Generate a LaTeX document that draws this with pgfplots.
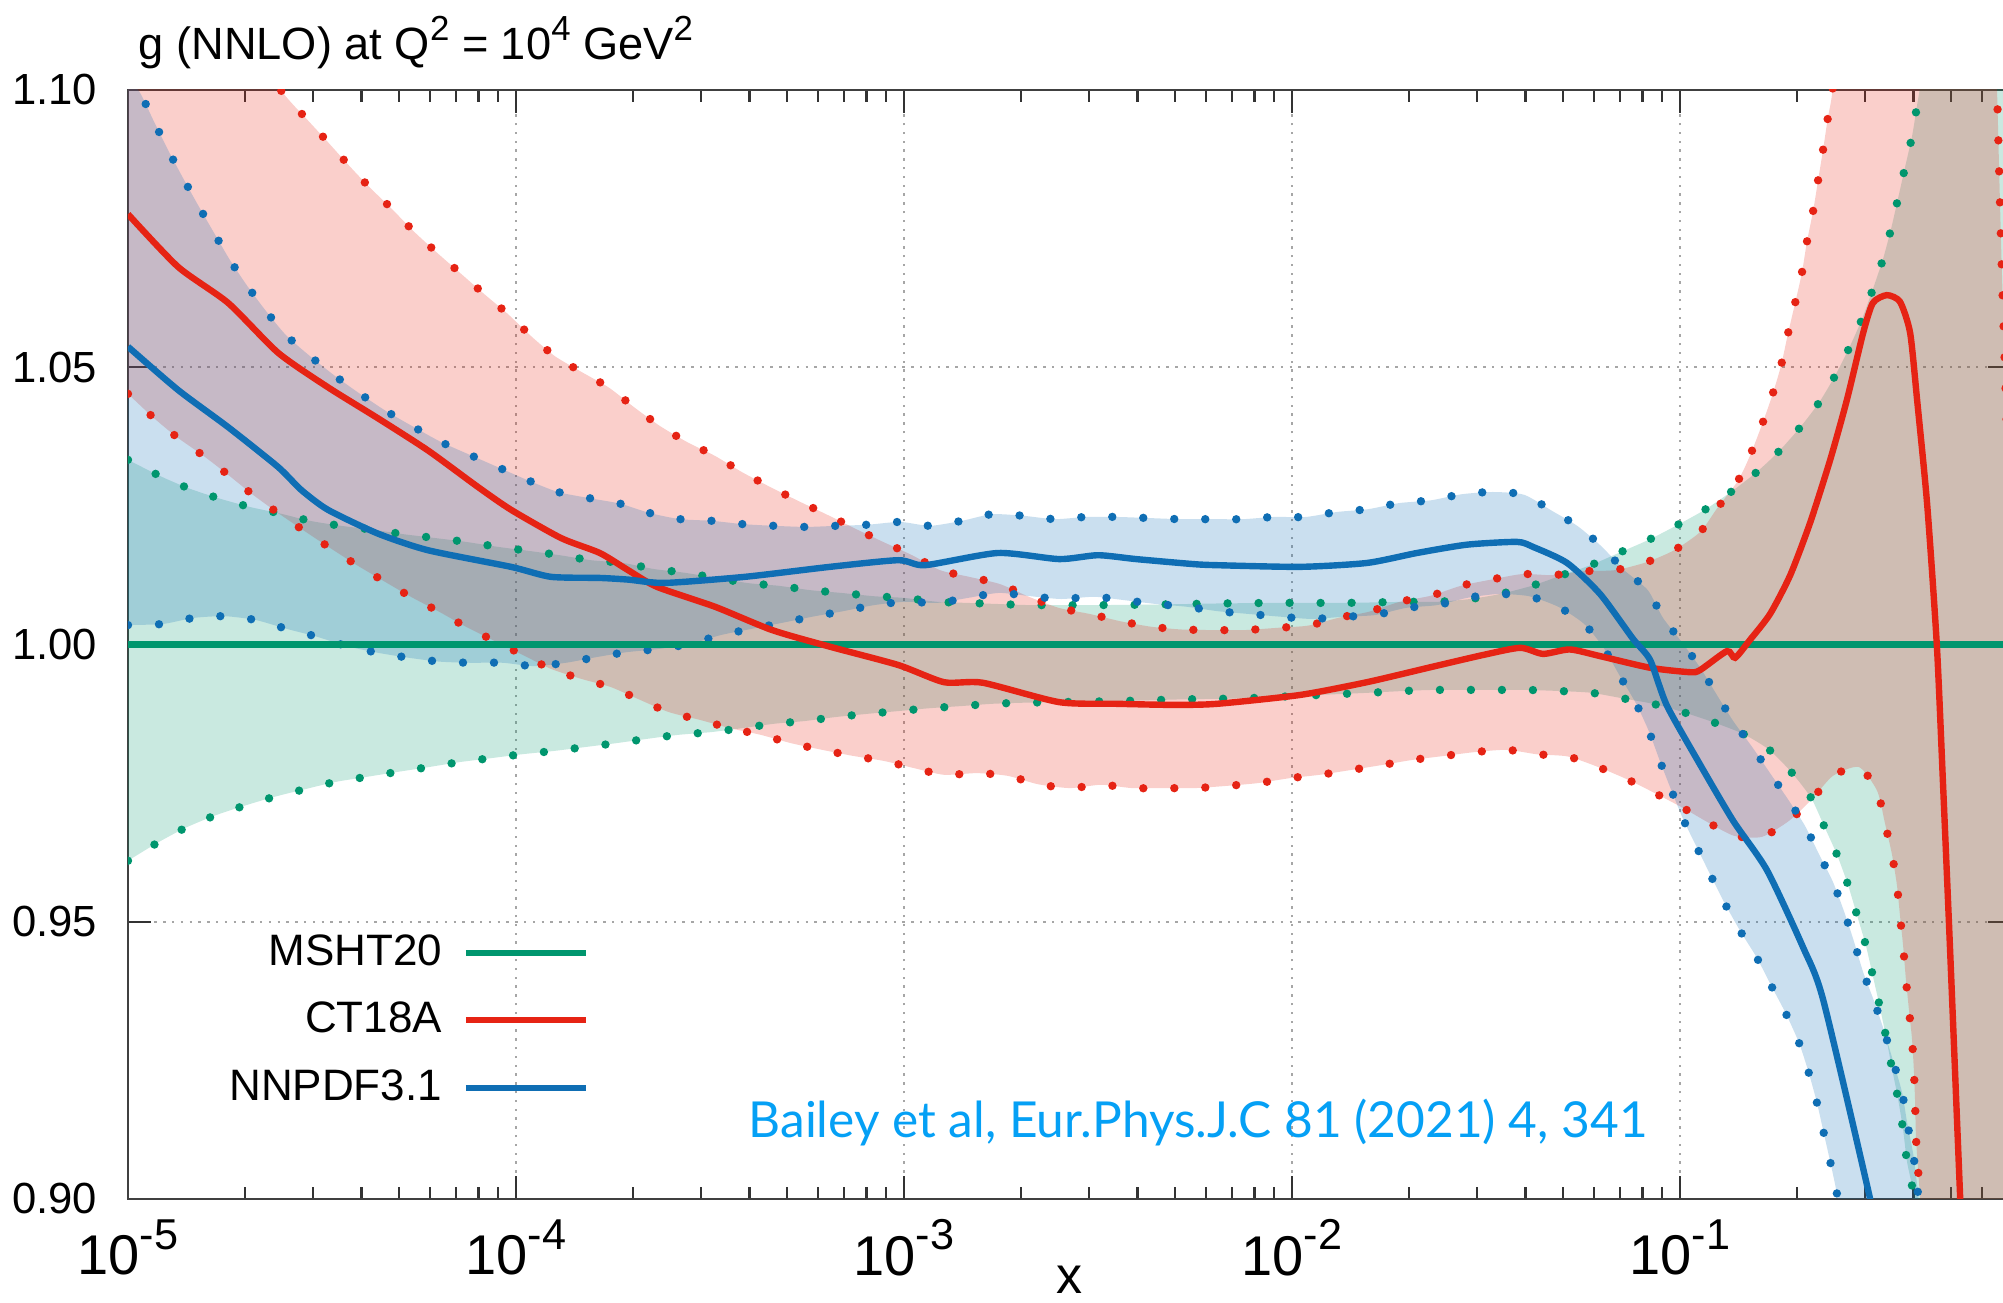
\documentclass[border=0pt]{standalone}
\usepackage{pgfplots}
\pgfplotsset{compat=1.18}
\usepackage{pgfplotstable}
\usepgfplotslibrary{fillbetween}
\usepackage{fontspec}
\setmainfont{Liberation Sans}
\newfontfamily\citefont{Lato}
\definecolor{mgreen}{RGB}{0,150,110}
\definecolor{mred}{RGB}{230,35,20}
\definecolor{mblue}{RGB}{15,110,180}
\definecolor{citeblue}{RGB}{5,160,245}
\tikzset{bandedge/.style={line width=2.1pt, line cap=round, dash pattern=on 0pt off 7.75pt}}

% x column = log10(x)
\pgfplotstableread{
lx y
-5.000 1.0
-0.100 1.0
}\mshtC
\pgfplotstableread{
lx y
-5.000 1.0333
-4.918 1.0304
-4.845 1.0282
-4.768 1.0264
-4.686 1.0248
-4.613 1.0237
-4.531 1.0223
-4.451 1.0214
-4.369 1.0207
-4.291 1.0199
-4.209 1.0192
-4.129 1.0185
-4.046 1.0176
-3.969 1.0169
-3.887 1.0161
-3.807 1.0152
-3.724 1.0147
-3.644 1.0136
-3.562 1.0129
-3.405 1.0111
-3.325 1.0106
-3.242 1.0098
-3.162 1.0093
-3.077 1.0087
-3.000 1.0084
-2.915 1.0077
-2.838 1.0075
-2.758 1.0073
-2.673 1.0071
-2.510 1.0071
-2.353 1.0072
-2.186 1.0074
-2.026 1.0075
-1.863 1.0075
-1.701 1.0077
-1.624 1.0077
-1.541 1.0082
-1.464 1.0091
-1.381 1.0106
-1.304 1.0125
-1.227 1.0144
-1.155 1.0166
-1.080 1.0189
-1.008 1.0215
-0.936 1.0243
-0.869 1.0275
-0.804 1.0310
-0.747 1.0347
-0.690 1.0392
-0.642 1.0436
-0.601 1.0484
-0.564 1.0535
-0.531 1.0587
-0.503 1.0641
-0.477 1.0695
-0.456 1.0750
-0.438 1.0805
-0.420 1.0861
-0.402 1.0917
-0.389 1.0973
-0.375 1.1040
-0.340 1.1300
-0.250 1.2000
-0.100 1.2500
}\mshtU
\pgfplotstableread{
lx y
-5.000 0.9610
-4.925 0.9642
-4.853 0.9669
-4.778 0.9691
-4.701 0.9709
-4.624 0.9725
-4.544 0.9739
-4.466 0.9752
-4.387 0.9761
-4.307 0.9770
-4.224 0.9779
-4.144 0.9788
-4.064 0.9795
-3.985 0.9802
-3.902 0.9808
-3.822 0.9815
-3.742 0.9822
-3.660 0.9830
-3.582 0.9837
-3.497 0.9842
-3.418 0.9849
-3.335 0.9857
-3.255 0.9862
-3.178 0.9869
-3.093 0.9875
-3.013 0.9880
-2.935 0.9885
-2.851 0.9889
-2.773 0.9893
-2.691 0.9895
-2.611 0.9896
-2.446 0.9898
-2.284 0.9901
-2.121 0.9903
-1.961 0.9908
-1.800 0.9913
-1.716 0.9916
-1.637 0.9918
-1.472 0.9918
-1.392 0.9918
-1.309 0.9916
-1.230 0.9913
-1.149 0.9903
-1.070 0.9893
-0.992 0.9878
-0.915 0.9860
-0.838 0.9839
-0.770 0.9810
-0.711 0.9768
-0.662 0.9723
-0.629 0.9673
-0.595 0.9620
-0.567 0.9566
-0.544 0.9512
-0.521 0.9457
-0.503 0.9402
-0.485 0.9346
-0.469 0.9292
-0.454 0.9236
-0.438 0.9180
-0.425 0.9124
-0.415 0.9067
-0.399 0.9011
-0.380 0.8900
-0.300 0.8500
-0.100 0.8000
}\mshtL
\pgfplotstableread{
lx y
-5.000 1.0776
-4.871 1.0681
-4.742 1.0616
-4.613 1.0526
-4.485 1.0464
-4.356 1.0408
-4.227 1.0350
-4.098 1.0284
-4.013 1.0243
-3.884 1.0192
-3.784 1.0165
-3.711 1.0134
-3.637 1.0104
-3.487 1.0068
-3.340 1.0026
-3.191 0.9996
-3.015 0.9963
-2.897 0.9932
-2.797 0.9931
-2.600 0.9896
-2.451 0.9893
-2.304 0.9891
-2.193 0.9893
-1.979 0.9909
-1.807 0.9932
-1.637 0.9960
-1.508 0.9981
-1.412 0.9994
-1.353 0.9983
-1.284 0.9991
-1.206 0.9979
-1.077 0.9958
-0.974 0.9950
-0.948 0.9954
-0.879 0.9988
-0.858 0.9976
-0.820 1.0008
-0.768 1.0055
-0.716 1.0125
-0.665 1.0219
-0.613 1.0333
-0.570 1.0441
-0.528 1.0562
-0.503 1.0616
-0.467 1.0630
-0.433 1.0618
-0.407 1.0562
-0.389 1.0441
-0.363 1.0252
-0.338 0.9997
-0.322 0.9745
-0.304 0.9449
-0.278 0.9002
-0.260 0.8700
}\ctC
\pgfplotstableread{
lx y
-5.000 1.1350
-4.800 1.1170
-4.601 1.0995
-4.544 1.0951
-4.490 1.0910
-4.436 1.0868
-4.381 1.0827
-4.322 1.0787
-4.265 1.0746
-4.206 1.0708
-4.144 1.0670
-4.082 1.0632
-4.021 1.0596
-3.961 1.0556
-3.900 1.0520
-3.830 1.0491
-3.760 1.0463
-3.696 1.0428
-3.629 1.0394
-3.559 1.0365
-3.487 1.0340
-3.418 1.0311
-3.345 1.0284
-3.273 1.0259
-3.198 1.0234
-3.129 1.0210
-3.054 1.0185
-2.979 1.0161
-2.907 1.0134
-2.832 1.0122
-2.753 1.0109
-2.678 1.0086
-2.601 1.0066
-2.521 1.0055
-2.443 1.0042
-2.363 1.0032
-2.284 1.0027
-2.204 1.0026
-2.121 1.0026
-2.039 1.0030
-1.959 1.0034
-1.881 1.0048
-1.802 1.0059
-1.722 1.0077
-1.642 1.0088
-1.564 1.0106
-1.487 1.0117
-1.407 1.0127
-1.327 1.0125
-1.250 1.0132
-1.168 1.0134
-1.088 1.0148
-1.015 1.0170
-0.948 1.0203
-0.905 1.0245
-0.851 1.0295
-0.820 1.0340
-0.789 1.0396
-0.763 1.0448
-0.740 1.0502
-0.722 1.0560
-0.704 1.0614
-0.686 1.0670
-0.673 1.0726
-0.657 1.0782
-0.644 1.0838
-0.631 1.0894
-0.619 1.0950
-0.607 1.1000
-0.580 1.1200
-0.450 1.2000
-0.250 1.2000
-0.200 1.1400
-0.183 1.1000
-0.170 1.0660
-0.140 1.0000
}\ctU
\pgfplotstableread{
lx y
-5.000 1.0452
-4.936 1.0410
-4.874 1.0374
-4.807 1.0341
-4.742 1.0306
-4.680 1.0271
-4.613 1.0237
-4.546 1.0205
-4.479 1.0174
-4.410 1.0143
-4.340 1.0114
-4.271 1.0086
-4.198 1.0059
-4.129 1.0032
-4.054 1.0006
-3.982 0.9981
-3.910 0.9956
-3.832 0.9938
-3.755 0.9923
-3.680 0.9900
-3.606 0.9878
-3.526 0.9864
-3.448 0.9849
-3.369 0.9837
-3.291 0.9822
-3.211 0.9810
-3.131 0.9799
-3.052 0.9790
-2.974 0.9777
-2.897 0.9765
-2.812 0.9768
-2.732 0.9763
-2.655 0.9748
-2.572 0.9741
-2.492 0.9747
-2.412 0.9741
-2.330 0.9741
-2.250 0.9741
-2.168 0.9745
-2.088 0.9750
-2.005 0.9759
-1.928 0.9765
-1.845 0.9774
-1.765 0.9783
-1.688 0.9792
-1.608 0.9799
-1.528 0.9806
-1.446 0.9810
-1.369 0.9802
-1.289 0.9798
-1.211 0.9779
-1.137 0.9757
-1.065 0.9732
-0.992 0.9705
-0.925 0.9678
-0.861 0.9655
-0.789 0.9653
-0.719 0.9682
-0.660 0.9721
-0.606 0.9763
-0.539 0.9779
-0.492 0.9736
-0.472 0.9678
-0.454 0.9622
-0.441 0.9566
-0.433 0.9510
-0.425 0.9456
-0.418 0.9397
-0.410 0.9341
-0.402 0.9287
-0.397 0.9227
-0.394 0.9170
-0.392 0.9112
-0.387 0.9058
-0.381 0.9000
-0.350 0.8700
-0.100 0.8000
}\ctL
\pgfplotstableread{
lx y
-5.000 1.0537
-4.871 1.0459
-4.742 1.0392
-4.613 1.0320
-4.554 1.0279
-4.485 1.0243
-4.356 1.0200
-4.227 1.0170
-4.013 1.0140
-3.910 1.0122
-3.784 1.0120
-3.711 1.0117
-3.616 1.0111
-3.410 1.0122
-3.191 1.0140
-3.015 1.0152
-2.946 1.0143
-2.758 1.0165
-2.600 1.0154
-2.500 1.0161
-2.402 1.0154
-2.255 1.0145
-2.193 1.0143
-1.979 1.0140
-1.807 1.0147
-1.678 1.0165
-1.549 1.0180
-1.420 1.0185
-1.379 1.0176
-1.291 1.0147
-1.206 1.0091
-1.121 1.0010
-1.077 0.9972
-1.034 0.9890
-0.948 0.9783
-0.863 0.9682
-0.776 0.9593
-0.683 0.9454
-0.631 0.9359
-0.510 0.9000
-0.450 0.8800
}\nnC
\pgfplotstableread{
lx y
-5.000 1.1020
-4.969 1.0995
-4.933 1.0943
-4.897 1.0892
-4.858 1.0841
-4.820 1.0793
-4.778 1.0742
-4.737 1.0693
-4.693 1.0647
-4.644 1.0601
-4.593 1.0558
-4.531 1.0520
-4.466 1.0484
-4.402 1.0452
-4.335 1.0421
-4.263 1.0392
-4.193 1.0365
-4.119 1.0342
-4.041 1.0318
-3.969 1.0296
-3.892 1.0275
-3.812 1.0264
-3.732 1.0254
-3.655 1.0237
-3.577 1.0226
-3.495 1.0223
-3.415 1.0217
-3.335 1.0214
-3.253 1.0212
-3.173 1.0214
-3.093 1.0216
-3.010 1.0221
-2.933 1.0214
-2.851 1.0223
-2.773 1.0235
-2.691 1.0232
-2.611 1.0226
-2.531 1.0230
-2.451 1.0230
-2.369 1.0228
-2.289 1.0226
-2.206 1.0226
-2.126 1.0226
-2.046 1.0230
-1.964 1.0230
-1.884 1.0239
-1.804 1.0244
-1.724 1.0255
-1.642 1.0260
-1.562 1.0271
-1.482 1.0275
-1.402 1.0270
-1.330 1.0241
-1.263 1.0213
-1.201 1.0176
-1.144 1.0134
-1.083 1.0098
-1.044 1.0048
-0.995 1.0004
-0.948 0.9958
-0.905 0.9909
-0.863 0.9862
-0.814 0.9815
-0.768 0.9768
-0.722 0.9721
-0.678 0.9673
-0.642 0.9622
-0.606 0.9572
-0.577 0.9518
-0.552 0.9465
-0.528 0.9409
-0.500 0.9357
-0.474 0.9303
-0.451 0.9249
-0.428 0.9193
-0.415 0.9139
-0.399 0.9081
-0.389 0.9025
-0.370 0.8900
-0.300 0.8500
}\nnU
\pgfplotstableread{
lx y
-5.000 1.0035
-4.910 1.0037
-4.830 1.0048
-4.750 1.0051
-4.670 1.0044
-4.590 1.0028
-4.513 1.0014
-4.436 0.9997
-4.356 0.9985
-4.276 0.9976
-4.196 0.9969
-4.116 0.9967
-4.034 0.9967
-3.954 0.9961
-3.871 0.9967
-3.794 0.9977
-3.716 0.9986
-3.631 0.9992
-3.552 1.0001
-3.472 1.0017
-3.394 1.0028
-3.314 1.0039
-3.237 1.0050
-3.157 1.0060
-3.077 1.0071
-2.997 1.0077
-2.915 1.0075
-2.835 1.0084
-2.755 1.0093
-2.673 1.0087
-2.595 1.0082
-2.510 1.0086
-2.433 1.0080
-2.351 1.0073
-2.271 1.0068
-2.191 1.0060
-2.111 1.0055
-2.028 1.0050
-1.948 1.0046
-1.869 1.0050
-1.786 1.0053
-1.706 1.0066
-1.626 1.0071
-1.549 1.0084
-1.469 1.0091
-1.389 1.0087
-1.314 1.0068
-1.247 1.0037
-1.197 0.9994
-1.155 0.9943
-1.113 0.9893
-1.080 0.9843
-1.052 0.9790
-1.023 0.9738
-0.992 0.9685
-0.956 0.9633
-0.920 0.9582
-0.884 0.9532
-0.843 0.9481
-0.802 0.9435
-0.763 0.9382
-0.727 0.9334
-0.693 0.9281
-0.668 0.9227
-0.647 0.9173
-0.629 0.9117
-0.611 0.9061
-0.595 0.9007
-0.570 0.8900
-0.400 0.8000
}\nnL

\newcommand{\sups}[1]{\raisebox{0.42em}{\fontsize{8.7}{9}\selectfont #1}}
\newcommand{\xsup}[1]{10\raisebox{0.45em}{\fontsize{10.8}{11}\selectfont #1}}

\begin{document}
\begin{tikzpicture}
\begin{axis}[
  scale only axis, width=470.75pt, height=277.25pt,
  xmin=-5, xmax=-0.147, ymin=0.9, ymax=1.1,
  enlargelimits=false,
  xtick={-5,-4,-3,-2,-1},
  xticklabels={\xsup{-5},\xsup{-4},\xsup{-3},\xsup{-2},\xsup{-1}},
  minor xtick={-4.69897,-4.52288,-4.39794,-4.30103,-4.22185,-4.15490,-4.09691,-4.04576,
               -3.69897,-3.52288,-3.39794,-3.30103,-3.22185,-3.15490,-3.09691,-3.04576,
               -2.69897,-2.52288,-2.39794,-2.30103,-2.22185,-2.15490,-2.09691,-2.04576,
               -1.69897,-1.52288,-1.39794,-1.30103,-1.22185,-1.15490,-1.09691,-1.04576,
               -0.69897,-0.52288,-0.39794,-0.30103,-0.22185},
  ytick={0.9,0.95,1,1.05,1.1},
  yticklabels={0.90,0.95,1.00,1.05,1.10},
  tick align=inside,
  major tick length=5.75pt, minor tick length=3pt,
  tick style={black!80, line width=0.6pt},
  axis line style={black!75, line width=0.7pt},
  grid=major,
  major grid style={black!35, line width=0.5pt, dash pattern=on 0.6pt off 1.6pt},
  xticklabel style={font=\fontsize{14}{16}\selectfont, inner sep=0pt, anchor=north, yshift=-5pt},
  yticklabel style={font=\fontsize{10.9}{12}\selectfont, inner sep=0pt, anchor=east, xshift=-7.5pt},
  title={g (NNLO) at Q\sups{2} = 10\sups{4} GeV\sups{2}},
  title style={at={(0,1)}, anchor=base west, xshift=2.5pt, yshift=1.5pt, inner sep=0pt, font=\fontsize{11.3}{13}\selectfont},
  xlabel={x},
  xlabel style={at={(0.5,0)}, anchor=north, yshift=-16.5pt, inner sep=0pt, font=\fontsize{13}{14}\selectfont},
  legend plot pos=right,
  legend cell align=right,
  legend image code/.code={\draw[#1,line width=1.5pt] (0pt,0pt) -- (30pt,0pt);},
  legend style={draw=none, fill=none, at={(axis cs:-3.812,0.9322)}, anchor=east,
    inner sep=0pt, outer sep=0pt, font=\fontsize{11}{13}\selectfont,
    row sep=7.7pt, column sep=5.25pt, nodes={inner sep=0pt}},
]
% MSHT20 band
\addplot[mgreen, bandedge, smooth, tension=0.4, name path=gU, forget plot] table[x=lx,y=y] {\mshtU};
\addplot[mgreen, bandedge, smooth, tension=0.4, name path=gL, forget plot] table[x=lx,y=y] {\mshtL};
\addplot[fill=mgreen, fill opacity=0.21, draw=none, forget plot] fill between[of=gU and gL];
% CT18A band
\addplot[mred, bandedge, smooth, tension=0.4, name path=rU, forget plot] table[x=lx,y=y] {\ctU};
\addplot[mred, bandedge, smooth, tension=0.4, name path=rL, forget plot] table[x=lx,y=y] {\ctL};
\addplot[fill=mred, fill opacity=0.22, draw=none, forget plot] fill between[of=rU and rL];
% NNPDF3.1 band
\addplot[mblue, bandedge, smooth, tension=0.4, name path=bU, forget plot] table[x=lx,y=y] {\nnU};
\addplot[mblue, bandedge, smooth, tension=0.4, name path=bL, forget plot] table[x=lx,y=y] {\nnL};
\addplot[fill=mblue, fill opacity=0.22, draw=none, forget plot] fill between[of=bU and bL];
% central curves
\addplot[mgreen, line width=1.6pt] table[x=lx,y=y] {\mshtC};
\addlegendentry{MSHT20}
\addplot[mred, line width=1.6pt, smooth, tension=0.4] table[x=lx,y=y] {\ctC};
\addlegendentry{CT18A}
\addplot[mblue, line width=1.6pt, smooth, tension=0.4] table[x=lx,y=y] {\nnC};
\addlegendentry{NNPDF3.1}
\node[anchor=base, inner sep=0pt, text=citeblue, font=\citefont\fontsize{12.4}{14}\selectfont] at (axis cs:-2.242,0.911) {Bailey et al, Eur.Phys.J.C 81 (2021) 4, 341};
\end{axis}
\pgfresetboundingbox
\useasboundingbox ([xshift=-32pt,yshift=-26pt]current axis.south west) rectangle ([xshift=-2pt,yshift=22.5pt]current axis.north east);
\end{tikzpicture}
\end{document}
